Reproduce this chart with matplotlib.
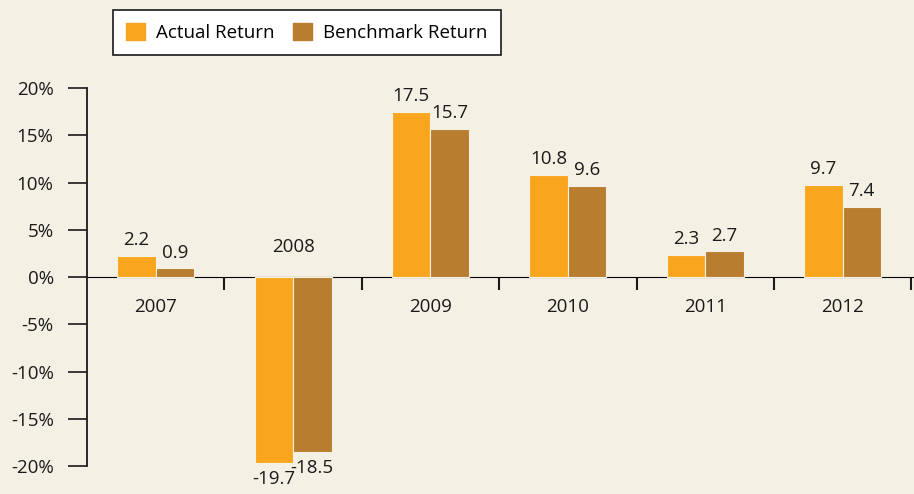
import numpy as np
import matplotlib.pyplot as plt
from matplotlib.patches import Patch

# chart data
years = ["2007", "2008", "2009", "2010", "2011", "2012"]
actual = [2.2, -19.7, 17.5, 10.8, 2.3, 9.7]
benchmark = [0.9, -18.5, 15.7, 9.6, 2.7, 7.4]
yticks = [-20, -15, -10, -5, 0, 5, 10, 15, 20]

bg = "#F4F0E3"
c_act = "#F9A61E"
c_bench = "#B87D2E"
ink = "#1a1a1a"
fs = 13.5

plt.rcParams['font.family'] = ['Open Sans', 'DejaVu Sans']

fig = plt.figure(figsize=(9.14, 4.94), dpi=100, facecolor=bg)
ax = fig.add_axes([87/914, 1 - 466/494, 1 - 87/914, (466 - 88)/494])
ax.set_facecolor(bg)

x = np.arange(len(years))
w = 0.28
b1 = ax.bar(x - w/2, actual, w, color=c_act, edgecolor=bg, linewidth=0.8)
b2 = ax.bar(x + w/2, benchmark, w, color=c_bench, edgecolor=bg, linewidth=0.8)

# value labels
for bars, vals in ((b1, actual), (b2, benchmark)):
    for r, v in zip(bars, vals):
        off = 5 if v >= 0 else -5
        ax.annotate(f"{v:.1f}", (r.get_x() + r.get_width()/2, v),
                    xytext=(0, off), textcoords="offset points",
                    ha="center", va="bottom" if v >= 0 else "top",
                    fontsize=fs, color=ink)

# year labels
for i, yr in enumerate(years):
    if actual[i] < 0:
        ax.annotate(yr, (i, 0), xytext=(0, 15), textcoords="offset points",
                    ha="center", va="bottom", fontsize=fs, color=ink)
    else:
        ax.annotate(yr, (i, 0), xytext=(0, -15), textcoords="offset points",
                    ha="center", va="top", fontsize=fs, color=ink)

ax.set_xlim(-0.5, 5.52)
ax.set_ylim(-20, 20)
ax.set_yticks(yticks)
ax.set_yticklabels([f"{t}%" for t in yticks], fontsize=fs, color=ink)
ax.tick_params(axis="y", length=14, width=1.2, color=ink, pad=10)
ax.set_xticks([])
for s in ("top", "right", "bottom"):
    ax.spines[s].set_visible(False)
ax.spines["left"].set_linewidth(1.3)
ax.spines["left"].set_color(ink)

# zero axis with category dividers
sec = ax.secondary_xaxis(0.5)
sec.set_xticks(np.arange(0.5, 6, 1.0))
sec.set_xticklabels([])
sec.tick_params(length=9, width=1.5, color=ink, direction="in")
sec.spines["bottom"].set_linewidth(1.3)
sec.spines["bottom"].set_color(ink)

handles = [Patch(color=c_act, label="Actual Return"),
           Patch(color=c_bench, label="Benchmark Return")]
leg = fig.legend(handles=handles, loc="upper left", bbox_to_anchor=(113/914, 1 - 10/494),
                 borderaxespad=0, ncol=2, frameon=True, fancybox=False, fontsize=fs,
                 handlelength=1.0, handleheight=1.0, handletextpad=0.6,
                 columnspacing=1.0, borderpad=0.7, edgecolor=ink, facecolor="white",
                 framealpha=1)
leg.get_frame().set_linewidth(1.2)

fig.savefig("out.png", dpi=100, facecolor=bg)
